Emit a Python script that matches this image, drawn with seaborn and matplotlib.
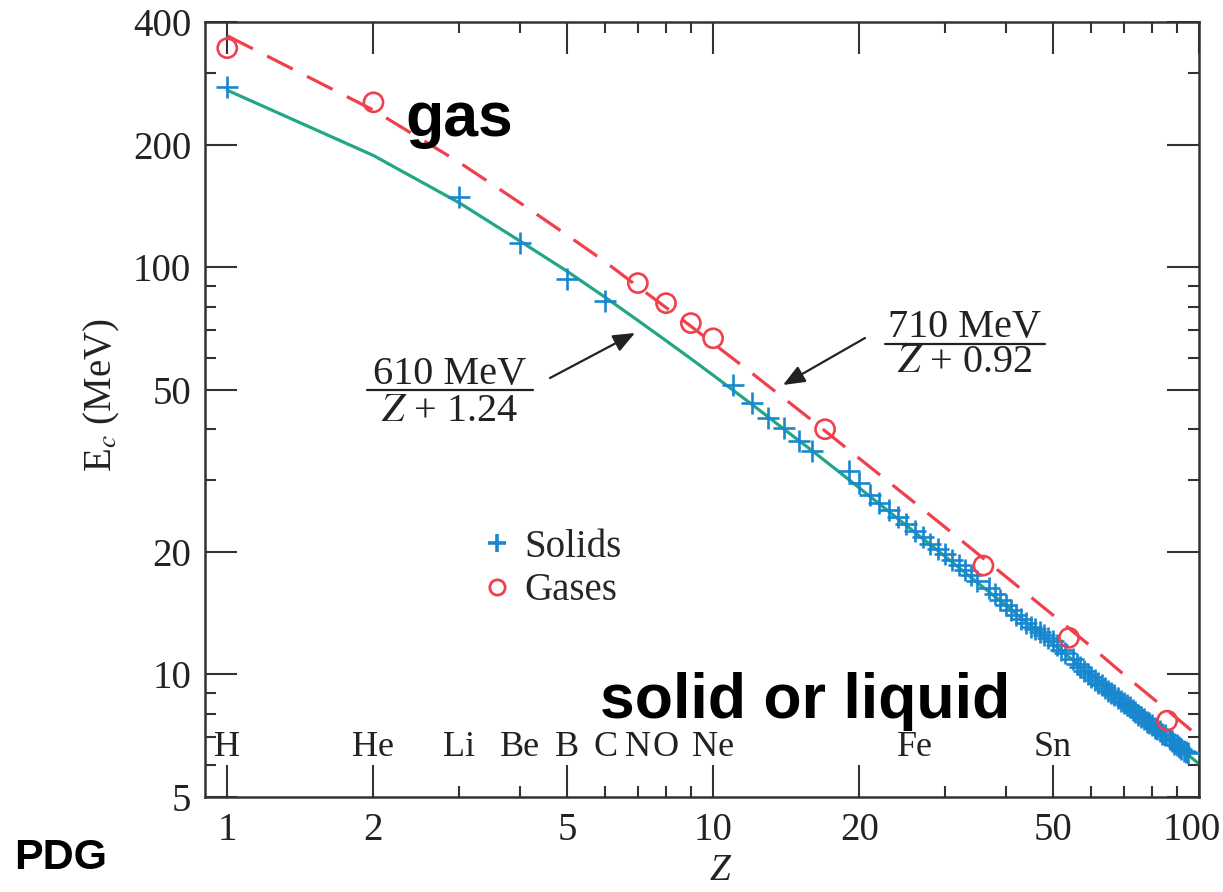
import matplotlib
matplotlib.use("Agg")
import matplotlib.pyplot as plt
import seaborn as sns
import pandas as pd
from matplotlib.lines import Line2D
from matplotlib.ticker import FixedLocator, FixedFormatter, NullFormatter
from matplotlib.transforms import ScaledTranslation

# ---------------- data ----------------
solid_z = ([1, 3, 4, 5, 6, 11, 12, 13, 14, 15, 16]
           + list(range(19, 36)) + list(range(37, 54))
           + list(range(55, 86)) + list(range(87, 96)))
solid_ec = ([277, 149, 114.6, 93.5, 82.5, 51.5, 46.3, 42.6, 40.2, 37.5, 35.3]
            + [31.5, 29.5, 27.6, 26.3, 25.3, 24.3, 23.4, 22.5, 21.7, 20.9,
               20.3, 19.7, 19.1, 18.6, 18.0, 17.5, 17.0]
            + [16.3, 15.8, 15.2, 14.8, 14.4, 14.0, 13.7, 13.4, 13.1, 12.9,
               12.7, 12.5, 12.3, 12.1, 11.8, 11.5, 11.3]
            + [10.9, 10.6, 10.4, 10.2, 10.0, 9.85, 9.7, 9.55, 9.4, 9.25,
               9.1, 9.0, 8.9, 8.75, 8.6, 8.5, 8.4, 8.3, 8.2, 8.1,
               7.95, 7.85, 7.75, 7.65, 7.6, 7.5, 7.4, 7.35, 7.25, 7.15, 7.1]
            + [6.95, 6.85, 6.75, 6.7, 6.65, 6.55, 6.5, 6.45, 6.4])

gas_z = [1, 2, 7, 8, 9, 10, 17, 36, 54, 86]
gas_ec = [345, 254, 91.4, 81.6, 72.9, 66.9, 40.0, 18.5, 12.3, 7.7]

line_z = [1, 2, 3, 4, 5, 6, 7, 8, 9, 10, 12, 14, 16, 18, 20, 25, 30, 35,
          40, 50, 60, 70, 80, 90, 100]
solid_fit = [272, 188, 144, 116, 97.8, 84.3, 74.0, 66.0, 59.6, 54.3, 46.1,
             40.0, 35.4, 31.7, 28.7, 23.2, 19.5, 16.8, 14.8, 11.9, 9.96,
             8.56, 7.51, 6.69, 6.03]
gas_fit = [370, 243, 181, 144, 120, 103, 89.6, 79.6, 71.6, 65.0, 55.0,
           47.6, 42.0, 37.5, 33.9, 27.4, 23.0, 19.8, 17.4, 14.0, 11.7,
           10.0, 8.77, 7.81, 7.03]

element_names = ["H", "He", "Li", "Be", "B", "C", "N", "O", "Ne", "Fe", "Sn"]
element_z = [1, 2, 3, 4, 5, 6, 7, 8, 10, 26, 50]

x_major = [1, 2, 5, 10, 20, 50, 100]
x_minor = [3, 4, 6, 7, 8, 9, 30, 40, 60, 70, 80, 90]
y_major = [5, 10, 20, 50, 100, 200, 400]
y_minor = [6, 7, 8, 9, 30, 40, 60, 70, 80, 90, 300]

# ---------------- style ----------------
BLUE = "#1887cf"
RED = "#f0404c"
GREEN = "#22a687"
INK = "#222222"

sns.set_theme(style="ticks")
plt.rcParams["font.family"] = ["Liberation Serif", "DejaVu Serif"]
plt.rcParams["mathtext.fontset"] = "stix"

W, H = 1223, 892
fig = plt.figure(figsize=(W / 100, H / 100), dpi=100)
ax = fig.add_axes([205 / W, 1 - 797 / H, (1199 - 205) / W, (797 - 22) / H])

fit_df = pd.DataFrame({"Z": line_z, "solid": solid_fit, "gas": gas_fit})
solid_df = pd.DataFrame({"Z": solid_z, "Ec": solid_ec})
gas_df = pd.DataFrame({"Z": gas_z, "Ec": gas_ec})

sns.lineplot(data=fit_df, x="Z", y="solid", ax=ax, color=GREEN, lw=2.3,
             estimator=None, sort=True, zorder=2)
sns.lineplot(data=fit_df, x="Z", y="gas", ax=ax, color=RED, lw=2.3,
             estimator=None, sort=True, zorder=2)
ax.lines[-1].set_dashes([9, 5])

sns.scatterplot(data=solid_df, x="Z", y="Ec", ax=ax, marker="+", s=240,
                color=BLUE, linewidth=1.9, zorder=3)
sns.scatterplot(data=gas_df, x="Z", y="Ec", ax=ax, marker="o", s=190,
                facecolor="none", edgecolor=RED, linewidth=1.9, zorder=3)

ax.set_xscale("log")
ax.set_yscale("log")
ax.set_xlim(0.9, 100)
ax.set_ylim(5, 400)

ax.xaxis.set_major_locator(FixedLocator(x_major))
ax.xaxis.set_major_formatter(FixedFormatter([str(v) for v in x_major]))
ax.xaxis.set_minor_locator(FixedLocator(x_minor))
ax.xaxis.set_minor_formatter(NullFormatter())
ax.yaxis.set_major_locator(FixedLocator(y_major))
ax.yaxis.set_major_formatter(FixedFormatter([str(v) for v in y_major]))
ax.yaxis.set_minor_locator(FixedLocator(y_minor))
ax.yaxis.set_minor_formatter(NullFormatter())

for sp in ax.spines.values():
    sp.set_visible(True)
    sp.set_linewidth(1.8)
    sp.set_color("#333333")

ax.tick_params(which="both", direction="in", top=True, right=True,
               color="#333333", width=1.5)
ax.tick_params(which="major", length=23, labelsize=28, labelcolor=INK)
ax.tick_params(which="minor", length=8)
ax.tick_params(axis="y", which="major", pad=10)
ax.tick_params(axis="x", which="major", pad=11)

ax.set_xlabel("Z", fontsize=27, fontstyle="italic", color=INK)
ax.set_ylabel(r"E$_{c}$ (MeV)", fontsize=28, color=INK)
ax.xaxis.set_label_coords((720 - 205) / 994, -(871 - 797) / 775)
ax.yaxis.set_label_coords(-(205 - 102) / 994, (797 - 395) / 775)
ax.xaxis.label.set_verticalalignment("center")
ax.yaxis.label.set_verticalalignment("center")

# nudge the last x tick label ("100") a little left, as in the reference
fig.canvas.draw()
last = ax.xaxis.get_major_ticks()[-1].label1
last.set_transform(last.get_transform()
                   + ScaledTranslation(-7 / 100, 0, fig.dpi_scale_trans))

# element labels along the bottom
for name, z in zip(element_names, element_z):
    ax.text(z, 6.62, name, ha="center", va="center", fontsize=26, color=INK)

# legend
handles = [Line2D([], [], marker="+", ls="", color=BLUE, ms=13, mew=2.6),
           Line2D([], [], marker="o", ls="", mfc="none", mec=RED, ms=11, mew=2.0)]
ax.legend(handles, ["Solids", "Gases"], loc="upper left",
          bbox_to_anchor=((478 - 205) / 994, (797 - 529) / 775),
          frameon=False, fontsize=28, handlelength=1.0, handletextpad=0.2,
          labelspacing=0.16, borderpad=0, borderaxespad=0)


def fpx(x, y):
    return x / W, 1 - y / H


# fractions
def fraction(cx, y_num, y_bar, y_den, x0, x1, num, den):
    fig.text(*fpx(cx, y_num), num, ha="center", va="baseline", fontsize=29, color=INK)
    fig.text(*fpx(cx, y_den), den, ha="center", va="baseline", fontsize=29, color=INK)
    fig.add_artist(Line2D([x0 / W, x1 / W], [1 - y_bar / H] * 2,
                          transform=fig.transFigure, color=INK, lw=1.6))


fraction(450, 384, 390, 421, 367, 533, "610 MeV", r"$Z$ + 1.24")
fraction(965, 337, 344, 372, 885, 1045, "710 MeV", r"$Z$ + 0.92")

arrow = dict(arrowstyle="-|>,head_length=1.1,head_width=0.45", color=INK,
             lw=1.6, shrinkA=0, shrinkB=0)
ax.annotate("", xy=(635, H - 333), xytext=(550, H - 378),
            xycoords="figure pixels", textcoords="figure pixels",
            arrowprops=arrow)
ax.annotate("", xy=(783, H - 385), xytext=(865, H - 338),
            xycoords="figure pixels", textcoords="figure pixels",
            arrowprops=arrow)

# big overlay words
fig.text(*fpx(405, 136), "gas", fontsize=45, fontweight="bold",
         family="Liberation Sans", color="black", va="baseline", ha="left")
fig.text(*fpx(600, 718), "solid or liquid", fontsize=45, fontweight="bold",
         family="Liberation Sans", color="black", va="baseline", ha="left")
fig.text(*fpx(14, 869), "PDG", fontsize=31, fontweight="bold",
         family="Liberation Sans", color="black", va="baseline", ha="left")

fig.savefig("out.png", dpi=100)
